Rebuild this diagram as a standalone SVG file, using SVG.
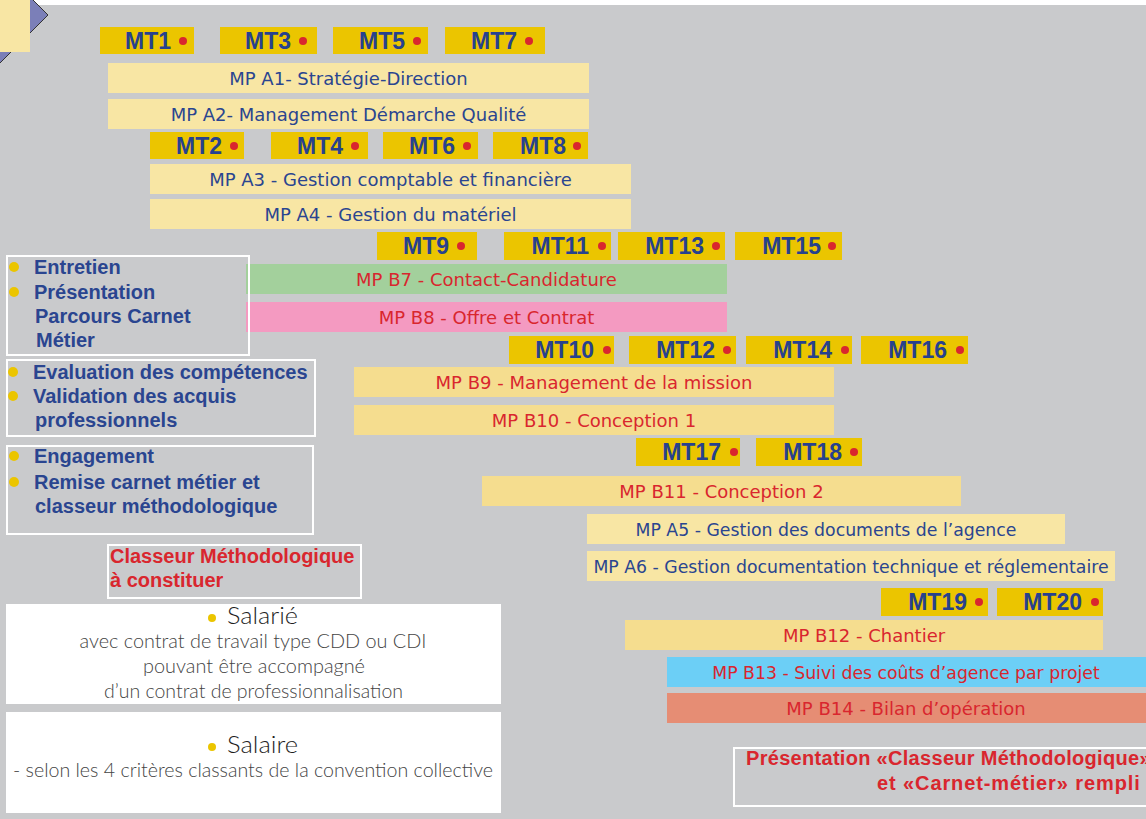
<svg xmlns="http://www.w3.org/2000/svg" width="1146" height="819" viewBox="0 0 1146 819">
<style>
.mt{fill:#ebc500}
.mtt{font-family:"Liberation Sans",Arial,sans-serif;font-weight:bold;font-size:23px;fill:#27418e;text-anchor:end}
.dot{fill:#d9262e}
.pa{fill:#f8e6a4}
.pb{fill:#f5dd8f}
.lb{font-family:"DejaVu Sans",sans-serif;font-size:18px;text-anchor:middle}
.sm{font-size:17.3px}
.blue{fill:#2a4590}
.red{fill:#d9262e}
.frame{fill:none;stroke:#fff;stroke-width:2}
.bt{font-family:"Liberation Sans",Arial,sans-serif;font-weight:bold;font-size:20px}
.bul{fill:#ebc500}
.lt{font-family:Lato,"Open Sans",sans-serif;font-weight:300;fill:#444;text-anchor:middle;font-size:19px}
.ht{font-family:Lato,"Open Sans",sans-serif;font-weight:300;font-size:23px;fill:#1e1e1e}
</style>
<rect x="0" y="0" width="1146" height="819" fill="#c9cacc"/>
<rect x="0" y="0" width="1146" height="5" fill="#fff"/>
<g id="corner">
<polygon points="48,15 -12,75 -72,15 -12,-45" fill="#7b7fb8" stroke="#333" stroke-width="1"/>
<rect x="0" y="0" width="30" height="52" fill="#f8e6a4"/>
</g>
<g id="connectors"></g>

<g id="mt-row1">
<g id="MT1"><rect class="mt" x="100" y="27" width="94" height="27"/><text class="mtt" x="171" y="49">MT1</text><circle class="dot" cx="183" cy="41" r="4"/></g>
<g id="MT3"><rect class="mt" x="220" y="27" width="97" height="27"/><text class="mtt" x="291" y="49">MT3</text><circle class="dot" cx="303" cy="41" r="4"/></g>
<g id="MT5"><rect class="mt" x="333" y="27" width="95" height="27"/><text class="mtt" x="405" y="49">MT5</text><circle class="dot" cx="417" cy="41" r="4"/></g>
<g id="MT7"><rect class="mt" x="445" y="27" width="100" height="27"/><text class="mtt" x="517" y="49">MT7</text><circle class="dot" cx="529" cy="41" r="4"/></g>
</g>
<g id="MPA1"><rect class="pa" x="108" y="63" width="481" height="30"/><text class="lb blue" x="348.5" y="84.5">MP A1- Stratégie-Direction</text></g>
<g id="MPA2"><rect class="pa" x="108" y="99" width="481" height="30"/><text class="lb blue" x="348.5" y="120.5">MP A2- Management Démarche Qualité</text></g>

<g id="mt-row2">
<g id="MT2"><rect class="mt" x="150" y="132" width="94" height="27"/><text class="mtt" x="222" y="154">MT2</text><circle class="dot" cx="234" cy="146" r="4"/></g>
<g id="MT4"><rect class="mt" x="271" y="132" width="97" height="27"/><text class="mtt" x="343" y="154">MT4</text><circle class="dot" cx="355" cy="146" r="4"/></g>
<g id="MT6"><rect class="mt" x="383" y="132" width="95" height="27"/><text class="mtt" x="455" y="154">MT6</text><circle class="dot" cx="467" cy="146" r="4"/></g>
<g id="MT8"><rect class="mt" x="493" y="132" width="95" height="27"/><text class="mtt" x="566" y="154">MT8</text><circle class="dot" cx="577" cy="146" r="4"/></g>
</g>
<g id="MPA3"><rect class="pa" x="150" y="164" width="481" height="30"/><text class="lb blue" x="390.5" y="185.5">MP A3 - Gestion comptable et financière</text></g>
<g id="MPA4"><rect class="pa" x="150" y="199" width="481" height="30"/><text class="lb blue" x="390.5" y="220.5">MP A4 - Gestion du matériel</text></g>

<g id="mt-row3">
<g id="MT9"><rect class="mt" x="377" y="232" width="100" height="28"/><text class="mtt" x="449" y="254">MT9</text><circle class="dot" cx="461" cy="246" r="4"/></g>
<g id="MT11"><rect class="mt" x="504" y="232" width="107" height="28"/><text class="mtt" x="589" y="254">MT11</text><circle class="dot" cx="602" cy="246" r="4"/></g>
<g id="MT13"><rect class="mt" x="618" y="232" width="107" height="28"/><text class="mtt" x="704" y="254">MT13</text><circle class="dot" cx="716" cy="246" r="4"/></g>
<g id="MT15"><rect class="mt" x="735" y="232" width="107" height="28"/><text class="mtt" x="821" y="254">MT15</text><circle class="dot" cx="832" cy="246" r="4"/></g>
</g>
<g id="MPB7"><rect x="246" y="264" width="481" height="30" fill="#a3d09c"/><text class="lb red" x="486.5" y="285.5">MP B7 - Contact-Candidature</text></g>
<g id="MPB8"><rect x="246" y="302" width="481" height="30" fill="#f49ac1"/><text class="lb red" x="486.5" y="323.5">MP B8 - Offre et Contrat</text></g>

<g id="mt-row4">
<g id="MT10"><rect class="mt" x="509" y="336" width="105" height="28"/><text class="mtt" x="594" y="358">MT10</text><circle class="dot" cx="607" cy="350" r="4"/></g>
<g id="MT12"><rect class="mt" x="629" y="336" width="107" height="28"/><text class="mtt" x="715" y="358">MT12</text><circle class="dot" cx="727" cy="350" r="4"/></g>
<g id="MT14"><rect class="mt" x="746" y="336" width="106" height="28"/><text class="mtt" x="832" y="358">MT14</text><circle class="dot" cx="845" cy="350" r="4"/></g>
<g id="MT16"><rect class="mt" x="861" y="336" width="107" height="28"/><text class="mtt" x="947" y="358">MT16</text><circle class="dot" cx="960" cy="350" r="4"/></g>
</g>
<g id="MPB9"><rect class="pb" x="354" y="367" width="480" height="30"/><text class="lb red" x="594" y="388.5">MP B9 - Management de la mission</text></g>
<g id="MPB10"><rect class="pb" x="354" y="405" width="480" height="30"/><text class="lb red" x="594" y="426.5">MP B10 - Conception 1</text></g>

<g id="mt-row5">
<g id="MT17"><rect class="mt" x="636" y="438" width="104" height="28"/><text class="mtt" x="721" y="460">MT17</text><circle class="dot" cx="734" cy="452" r="4"/></g>
<g id="MT18"><rect class="mt" x="756" y="438" width="106" height="28"/><text class="mtt" x="842" y="460">MT18</text><circle class="dot" cx="854" cy="452" r="4"/></g>
</g>
<g id="MPB11"><rect class="pb" x="482" y="476" width="479" height="30"/><text class="lb red" x="721.5" y="497.5">MP B11 - Conception 2</text></g>
<g id="MPA5"><rect class="pa" x="587" y="514" width="478" height="30"/><text class="lb sm blue" x="826" y="535.5">MP A5 - Gestion des documents de l’agence</text></g>
<g id="MPA6"><rect class="pa" x="587" y="551" width="528" height="30"/><text class="lb sm blue" x="851" y="572.5">MP A6 - Gestion documentation technique et réglementaire</text></g>

<g id="mt-row6">
<g id="MT19"><rect class="mt" x="881" y="588" width="107" height="28"/><text class="mtt" x="967" y="610">MT19</text><circle class="dot" cx="979" cy="602" r="4"/></g>
<g id="MT20"><rect class="mt" x="997" y="588" width="106" height="28"/><text class="mtt" x="1082" y="610">MT20</text><circle class="dot" cx="1095" cy="602" r="4"/></g>
</g>
<g id="MPB12"><rect class="pb" x="625" y="620" width="478" height="30"/><text class="lb red" x="864" y="641.5">MP B12 - Chantier</text></g>
<g id="MPB13"><rect x="667" y="657" width="479" height="30" fill="#6ccff6"/><text class="lb sm red" x="906" y="678.5">MP B13 - Suivi des coûts d’agence par projet</text></g>
<g id="MPB14"><rect x="667" y="693" width="479" height="30" fill="#e68d74"/><text class="lb red" x="906" y="714.5">MP B14 - Bilan d’opération</text></g>

<g id="box-entretien">
<rect class="frame" x="7" y="256" width="242" height="99"/>
<circle class="bul" cx="14" cy="267" r="5"/><circle class="bul" cx="14" cy="292" r="5"/>
<text class="bt blue" x="34" y="274">Entretien</text>
<text class="bt blue" x="34" y="299">Présentation</text>
<text class="bt blue" x="35" y="323">Parcours Carnet</text>
<text class="bt blue" x="36" y="347">Métier</text>
</g>
<g id="box-evaluation">
<rect class="frame" x="7" y="360" width="308" height="76"/>
<circle class="bul" cx="13" cy="372" r="5"/><circle class="bul" cx="13" cy="396" r="5"/>
<text class="bt blue" x="33" y="379">Evaluation des compétences</text>
<text class="bt blue" x="33" y="403">Validation des acquis</text>
<text class="bt blue" x="35" y="427">professionnels</text>
</g>
<g id="box-engagement">
<rect class="frame" x="7" y="446" width="306" height="88"/>
<circle class="bul" cx="14" cy="456" r="5"/><circle class="bul" cx="14" cy="482" r="5"/>
<text class="bt blue" x="34" y="463">Engagement</text>
<text class="bt blue" x="34" y="489">Remise carnet métier et</text>
<text class="bt blue" x="35" y="513">classeur méthodologique</text>
</g>
<g id="box-classeur">
<rect class="frame" x="108" y="545" width="253" height="53"/>
<text class="bt red" x="110" y="563">Classeur Méthodologique</text>
<text class="bt red" x="110" y="587">à constituer</text>
</g>
<g id="box-salarie">
<rect x="6" y="604" width="495" height="100" fill="#fff"/>
<circle class="bul" cx="212" cy="618" r="4"/>
<text class="ht" x="227" y="624" textLength="71" lengthAdjust="spacingAndGlyphs">Salarié</text>
<text class="lt" x="253" y="648" textLength="347" lengthAdjust="spacingAndGlyphs">avec contrat de travail type CDD ou CDI</text>
<text class="lt" x="254" y="673" textLength="222" lengthAdjust="spacingAndGlyphs">pouvant être accompagné</text>
<text class="lt" x="253.5" y="698" textLength="299" lengthAdjust="spacingAndGlyphs">d’un contrat de professionnalisation</text>
</g>
<g id="box-salaire">
<rect x="6" y="712" width="495" height="101" fill="#fff"/>
<circle class="bul" cx="212" cy="747" r="4"/>
<text class="ht" x="227" y="753" textLength="71" lengthAdjust="spacingAndGlyphs">Salaire</text>
<text class="lt" x="253" y="777" textLength="480" lengthAdjust="spacingAndGlyphs">- selon les 4 critères classants de la convention collective</text>
</g>
<g id="box-presentation">
<rect class="frame" x="734" y="748" width="440" height="58"/>
<text class="bt red" x="746" y="765" letter-spacing="0.3">Présentation «Classeur Méthodologique»</text>
<text class="bt red" x="877" y="790" letter-spacing="0.9">et «Carnet-métier» rempli</text>
</g>
</svg>
